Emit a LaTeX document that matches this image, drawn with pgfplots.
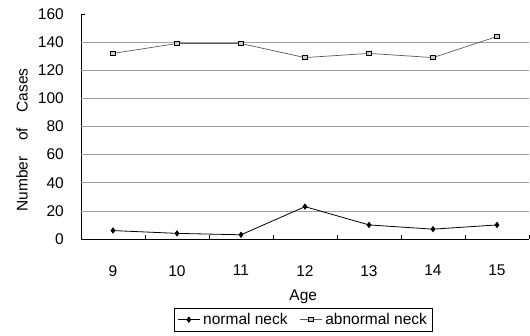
\documentclass[border=0pt]{standalone}
\usepackage{fontspec}
\setmainfont{Liberation Sans}
\usepackage{pgfplots}
\pgfplotsset{compat=1.18}

\newcommand{\chartfont}{\fontsize{15.5bp}{18bp}\selectfont}

\begin{document}
\begin{tikzpicture}[font=\chartfont]
\begin{axis}[
  scale only axis,
  width=448bp, height=225bp,
  xmin=8.5, xmax=15.5,
  ymin=0, ymax=160,
  axis x line*=bottom,
  axis y line*=left,
  axis line style={black, line width=0.7pt},
  % tick marks fall between the ages, the age labels sit under each category
  xtick={9.5,10.5,...,15.5},
  xticklabels={},
  extra x ticks={9,10,...,15},
  extra x tick style={major tick length=0pt},
  ytick={0,20,...,160},
  extra y ticks={20,40,...,140},
  extra y tick labels={},
  extra y tick style={grid=major, major tick length=0pt},
  grid style={gray!75, line width=0.7pt},
  tick align=inside,
  major tick length=4.5bp,
  tick style={black, line width=0.7pt},
  /pgf/number format/assume math mode=true,
  every x tick label/.append style={font=\chartfont, inner sep=0pt,
    anchor=north, yshift=-26bp},
  every y tick label/.append style={font=\chartfont, inner sep=0pt,
    anchor=east, xshift=-17bp},
  label style={font=\chartfont},
  xlabel={Age},
  xlabel style={at={(axis description cs:0.496,0)}, anchor=center, yshift=-58bp},
  ylabel={Number\hspace{1.0em}of\hspace{1.0em}Cases},
  ylabel style={at={(axis description cs:0,0.44)}, anchor=center, yshift=59bp},
  legend columns=2,
  legend style={at={(axis description cs:0.496,0)}, anchor=north, yshift=-69bp,
    draw=black, line width=0.6pt, inner sep=3pt,
    font=\chartfont,
    /tikz/every odd column/.append style={column sep=1bp},
    /tikz/every even column/.append style={column sep=10bp}},
  legend image code/.code={%
    \draw[mark repeat=2, mark phase=2, #1]
      plot coordinates {(0bp,0bp) (11bp,0bp) (22bp,0bp)};},
  legend cell align=left,
  clip=false,
]
\addplot[black, line width=0.8pt, mark=diamond*, mark size=2.6pt,
  mark options={fill=black, solid}]
  coordinates {(9,6) (10,4) (11,3) (12,23) (13,10) (14,7) (15,10)};
\addlegendentry{normal neck}
\addplot[black!65, line width=0.7pt, mark=square*, mark size=2.3pt,
  mark options={fill=gray!40, draw=black, line width=1pt, solid}]
  coordinates {(9,132) (10,139) (11,139) (12,129) (13,132) (14,129) (15,144)};
\addlegendentry{abnormal neck}
\path (rel axis cs:0,0) ++(-81bp,-97bp) coordinate (bl);
\path (rel axis cs:1,1) ++(1bp,14bp) coordinate (tr);
\end{axis}
\pgfresetboundingbox
\path[use as bounding box] (bl) rectangle (tr);
\end{tikzpicture}
\end{document}
